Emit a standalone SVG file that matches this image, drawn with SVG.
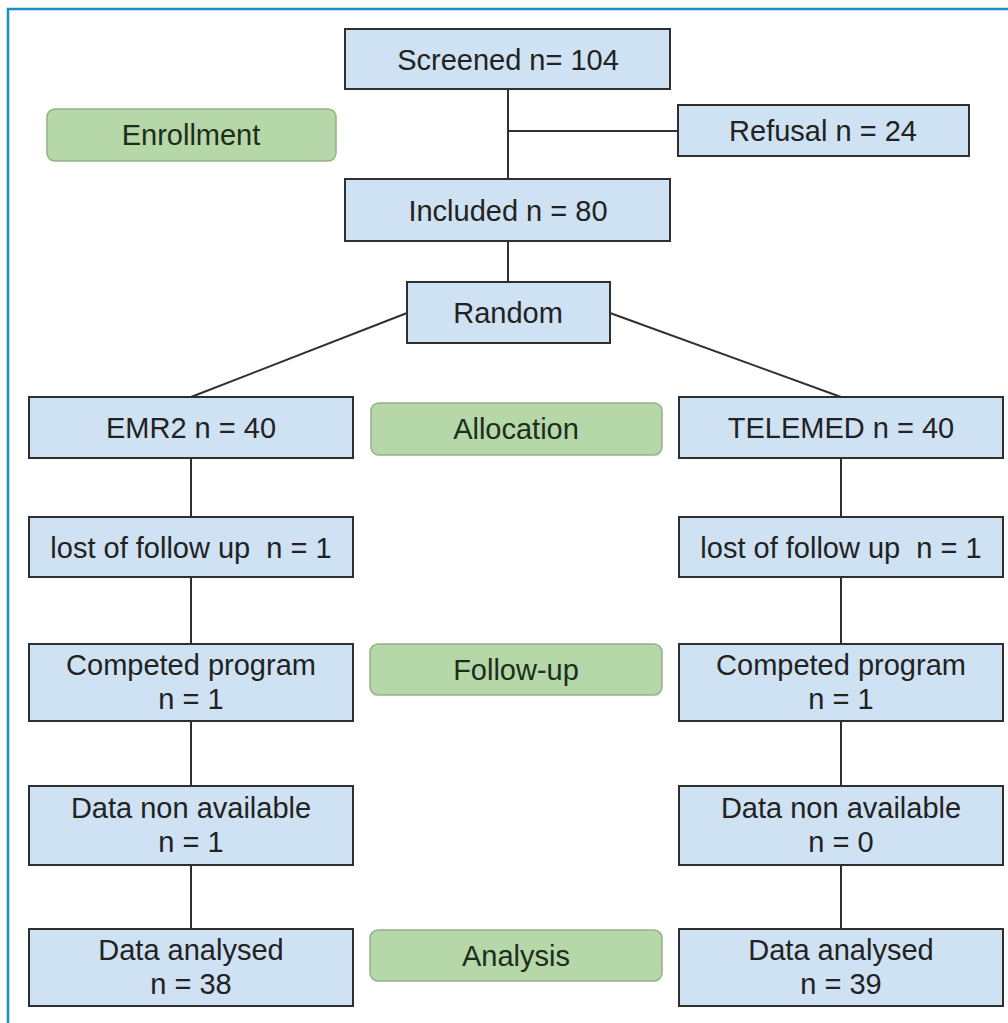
<svg xmlns="http://www.w3.org/2000/svg" width="1008" height="1023" viewBox="0 0 1008 1023">
<style>
.box{fill:#cfe2f3;stroke:#2f2f2f;stroke-width:2}
.phase{fill:#b6d7a8;stroke:#94b08a;stroke-width:1.5}
.t{font-family:"Liberation Sans",Arial,sans-serif;font-size:29px;fill:#222;text-anchor:middle;white-space:pre}
.pt{font-family:"Liberation Sans",Arial,sans-serif;font-size:29px;fill:#1c2e1c;text-anchor:middle}
.c{stroke:#2f2f2f;stroke-width:2;fill:none}
</style>
<rect width="1008" height="1023" fill="#ffffff"/>
<path d="M8,1023 V9 H1008" fill="none" stroke="#1f8ac9" stroke-width="2.5"/>
<g id="connectors">
<line class="c" x1="508" y1="89" x2="508" y2="179"/>
<line class="c" x1="508" y1="131" x2="678" y2="131"/>
<line class="c" x1="508" y1="241" x2="508" y2="282"/>
<line class="c" x1="407" y1="313" x2="191" y2="397"/>
<line class="c" x1="610" y1="313" x2="841" y2="397"/>
<line class="c" x1="191" y1="458" x2="191" y2="517"/>
<line class="c" x1="191" y1="577" x2="191" y2="644"/>
<line class="c" x1="191" y1="721" x2="191" y2="786"/>
<line class="c" x1="191" y1="865" x2="191" y2="929"/>
<line class="c" x1="841" y1="458" x2="841" y2="517"/>
<line class="c" x1="841" y1="577" x2="841" y2="644"/>
<line class="c" x1="841" y1="721" x2="841" y2="786"/>
<line class="c" x1="841" y1="865" x2="841" y2="929"/>
</g>
<g id="screened"><rect class="box" x="345" y="29" width="325" height="60"/><text class="t" x="508" y="70">Screened n= 104</text></g>
<g id="enrollment"><rect class="phase" x="47" y="109" width="289" height="52" rx="8"/><text class="pt" x="191" y="145">Enrollment</text></g>
<g id="refusal"><rect class="box" x="678" y="105" width="291" height="51"/><text class="t" x="823" y="141">Refusal n = 24</text></g>
<g id="included"><rect class="box" x="345" y="179" width="325" height="62"/><text class="t" x="508" y="221">Included n = 80</text></g>
<g id="random"><rect class="box" x="407" y="282" width="203" height="61"/><text class="t" x="508" y="323">Random</text></g>
<g id="emr2"><rect class="box" x="29" y="397" width="324" height="61"/><text class="t" x="191" y="438">EMR2 n = 40</text></g>
<g id="allocation"><rect class="phase" x="371" y="403" width="291" height="52" rx="8"/><text class="pt" x="516" y="439">Allocation</text></g>
<g id="telemed"><rect class="box" x="679" y="397" width="324" height="61"/><text class="t" x="841" y="438">TELEMED n = 40</text></g>
<g id="lost-left"><rect class="box" x="29" y="517" width="324" height="60"/><text class="t" x="191" y="558">lost of follow up  n = 1</text></g>
<g id="lost-right"><rect class="box" x="679" y="517" width="324" height="60"/><text class="t" x="841" y="558">lost of follow up  n = 1</text></g>
<g id="completed-left"><rect class="box" x="29" y="644" width="324" height="77"/><text class="t" x="191" y="675">Competed program</text><text class="t" x="191" y="709">n = 1</text></g>
<g id="followup"><rect class="phase" x="370" y="644" width="292" height="51" rx="8"/><text class="pt" x="516" y="680">Follow-up</text></g>
<g id="completed-right"><rect class="box" x="679" y="644" width="324" height="77"/><text class="t" x="841" y="675">Competed program</text><text class="t" x="841" y="709">n = 1</text></g>
<g id="nodata-left"><rect class="box" x="29" y="786" width="324" height="79"/><text class="t" x="191" y="818">Data non available</text><text class="t" x="191" y="852">n = 1</text></g>
<g id="nodata-right"><rect class="box" x="679" y="786" width="324" height="79"/><text class="t" x="841" y="818">Data non available</text><text class="t" x="841" y="852">n = 0</text></g>
<g id="analysed-left"><rect class="box" x="29" y="929" width="324" height="77"/><text class="t" x="191" y="960">Data analysed</text><text class="t" x="191" y="994">n = 38</text></g>
<g id="analysis"><rect class="phase" x="370" y="930" width="292" height="51" rx="8"/><text class="pt" x="516" y="966">Analysis</text></g>
<g id="analysed-right"><rect class="box" x="679" y="929" width="324" height="77"/><text class="t" x="841" y="960">Data analysed</text><text class="t" x="841" y="994">n = 39</text></g>
</svg>
